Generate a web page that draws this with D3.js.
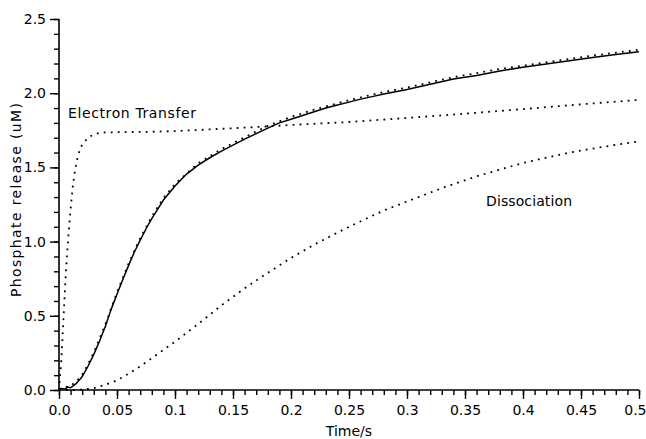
<!DOCTYPE html>
<html>
<head>
<meta charset="utf-8">
<script src="https://cdn.jsdelivr.net/npm/d3@7/dist/d3.min.js"></script>
<style>
  body { margin: 0; background: #fff; }
  svg { display: block; }
  text { font-family: "DejaVu Sans", sans-serif; fill: #000; }
</style>
</head>
<body>
<svg id="chart" width="646" height="439"></svg>
<script>
// Axis ticks
const xTickValues = [0, 0.05, 0.1, 0.15, 0.2, 0.25, 0.3, 0.35, 0.4, 0.45, 0.5];
const xTickLabels = ["0.0", "0.05", "0.1", "0.15", "0.2", "0.25", "0.3", "0.35", "0.4", "0.45", "0.5"];
const yTickValues = [0, 0.5, 1.0, 1.5, 2.0, 2.5];
const yTickLabels = ["0.0", "0.5", "1.0", "1.5", "2.0", "2.5"];

// Measured phosphate release (uM) versus time (s)
const observedTime = [0, 0.0025, 0.005, 0.0075, 0.01, 0.0125, 0.015, 0.02, 0.025, 0.03, 0.035, 0.04, 0.045,
  0.05, 0.055, 0.06, 0.065, 0.07, 0.075, 0.08, 0.09, 0.1, 0.11, 0.12, 0.13, 0.14, 0.15, 0.16, 0.17, 0.18,
  0.19, 0.2, 0.21, 0.22, 0.23, 0.24, 0.25, 0.26, 0.27, 0.28, 0.29, 0.3, 0.32, 0.34, 0.36, 0.38, 0.4,
  0.42, 0.44, 0.46, 0.48, 0.5];
const observedPi = [0, 0.01, 0.005, 0.02, 0.015, 0.03, 0.045, 0.09, 0.16, 0.24, 0.33, 0.43, 0.545,
  0.645, 0.745, 0.84, 0.93, 1.01, 1.085, 1.155, 1.28, 1.375, 1.455, 1.515, 1.565, 1.61, 1.65, 1.69, 1.728, 1.765,
  1.80, 1.825, 1.85, 1.875, 1.90, 1.92, 1.94, 1.96, 1.977, 1.995, 2.01, 2.025, 2.06, 2.095, 2.12, 2.15, 2.175,
  2.196, 2.218, 2.24, 2.26, 2.28];

// Fitted total release
const fitTime = [0, 0.01, 0.015, 0.02, 0.025, 0.03, 0.04, 0.05, 0.06, 0.07, 0.08, 0.09, 0.1, 0.12, 0.14,
  0.16, 0.18, 0.2, 0.22, 0.25, 0.28, 0.3, 0.34, 0.38, 0.42, 0.46, 0.5];
const fitPi = [0, 0.02, 0.05, 0.095, 0.165, 0.245, 0.435, 0.65, 0.845, 1.015, 1.16, 1.285, 1.38, 1.52, 1.615,
  1.695, 1.772, 1.832, 1.882, 1.945, 2.0, 2.03, 2.1, 2.155, 2.2, 2.245, 2.285];

// Electron transfer component
const etTime = [0, 0.002, 0.004, 0.006, 0.008, 0.01, 0.012, 0.014, 0.016, 0.018, 0.02, 0.025, 0.03, 0.035,
  0.04, 0.06, 0.08, 0.1, 0.12, 0.15, 0.18, 0.2, 0.25, 0.3, 0.35, 0.4, 0.45, 0.5];
const etPi = [0, 0.2, 0.5, 0.8, 1.03, 1.22, 1.38, 1.49, 1.565, 1.62, 1.655, 1.70, 1.722, 1.732,
  1.736, 1.738, 1.740, 1.745, 1.752, 1.764, 1.776, 1.786, 1.806, 1.833, 1.862, 1.893, 1.925, 1.955];

// Dissociation component
const disTime = [0, 0.01, 0.02, 0.03, 0.04, 0.05, 0.06, 0.07, 0.08, 0.09, 0.1, 0.12, 0.14, 0.16, 0.18,
  0.2, 0.22, 0.25, 0.28, 0.3, 0.33, 0.36, 0.4, 0.44, 0.47, 0.5];
const disPi = [0, 0, 0.003, 0.012, 0.035, 0.065, 0.11, 0.16, 0.215, 0.27, 0.325, 0.445, 0.57, 0.685, 0.79,
  0.89, 0.98, 1.10, 1.21, 1.27, 1.36, 1.44, 1.53, 1.60, 1.64, 1.675];

const margin = { top: 19, right: 7, bottom: 49, left: 59 };
const W = 646, H = 439;
const svg = d3.select("#chart");

const x = d3.scaleLinear().domain([0, 0.5]).range([margin.left, W - margin.right]);
const y = d3.scaleLinear().domain([0, 2.5]).range([H - margin.bottom, margin.top]);

// X axis: major ticks every 0.05, minor every 0.01
const xMinor = d3.range(0, 51).map(i => i / 100);
const xAxisG = svg.append("g").attr("transform", `translate(0,${y(0)})`);
xAxisG.call(d3.axisBottom(x).tickValues(xMinor).tickSize(5).tickFormat(""))
  .call(g => g.select(".domain").remove());
xAxisG.append("g").call(d3.axisBottom(x).tickValues(xTickValues).tickSize(9)
    .tickFormat((d, i) => xTickLabels[i]).tickPadding(6))
  .call(g => g.select(".domain").remove())
  .call(g => g.selectAll("text").attr("font-size", 14).attr("font-family", "DejaVu Sans, sans-serif"))
  // keep the last label inside the right edge
  .call(g => g.selectAll(".tick").filter(d => d === 0.5).select("text")
    .attr("text-anchor", "end").attr("x", 7));
xAxisG.selectAll("line").attr("stroke", "#000").attr("stroke-width", 1.4);
xAxisG.append("line").attr("x1", x(0)).attr("x2", x(0.5)).attr("stroke", "#000").attr("stroke-width", 1.6);

// Y axis: major ticks every 0.5, minor every 0.1
const yMinor = d3.range(0, 26).map(i => i / 10);
const yAxisG = svg.append("g").attr("transform", `translate(${x(0)},0)`);
yAxisG.call(d3.axisLeft(y).tickValues(yMinor).tickSize(5).tickFormat(""))
  .call(g => g.select(".domain").remove());
yAxisG.append("g").call(d3.axisLeft(y).tickValues(yTickValues).tickSize(9)
    .tickFormat((d, i) => yTickLabels[i]).tickPadding(4))
  .call(g => g.select(".domain").remove())
  .call(g => g.selectAll("text").attr("font-size", 14).attr("font-family", "DejaVu Sans, sans-serif"));
yAxisG.selectAll("line").attr("stroke", "#000").attr("stroke-width", 1.4);
yAxisG.append("line").attr("y1", y(0)).attr("y2", y(2.5)).attr("stroke", "#000").attr("stroke-width", 1.6);

// Axis titles
svg.append("text").attr("x", (x(0) + x(0.5)) / 2).attr("y", 436)
  .attr("text-anchor", "middle").attr("font-size", 14).text("Time/s");
svg.append("text").attr("transform", "translate(21,200) rotate(-90)")
  .attr("text-anchor", "middle").attr("font-size", 14)
  .attr("textLength", 194).attr("lengthAdjust", "spacing")
  .text("Phosphate release (uM)");

// Curves
const lineOf = (ts, vs) => d3.line().x((d, i) => x(ts[i])).y((d, i) => y(vs[i]))(ts);

svg.append("path").attr("d", lineOf(observedTime, observedPi))
  .attr("fill", "none").attr("stroke", "#000").attr("stroke-width", 1.5).attr("stroke-linejoin", "round");

const dotted = (ts, vs) => svg.append("path").attr("d", lineOf(ts, vs))
  .attr("fill", "none").attr("stroke", "#000").attr("stroke-width", 1.8)
  .attr("stroke-dasharray", "1.8 5.2");

dotted(fitTime, fitPi.map(v => v + 0.008));
dotted(etTime, etPi);
dotted(disTime, disPi);

// Component labels
svg.append("text").attr("x", 68).attr("y", 118).attr("font-size", 14)
  .attr("textLength", 128).attr("lengthAdjust", "spacing").text("Electron Transfer");
svg.append("text").attr("x", 486).attr("y", 206).attr("font-size", 14)
  .attr("textLength", 86).attr("lengthAdjust", "spacing").text("Dissociation");
</script>
</body>
</html>
